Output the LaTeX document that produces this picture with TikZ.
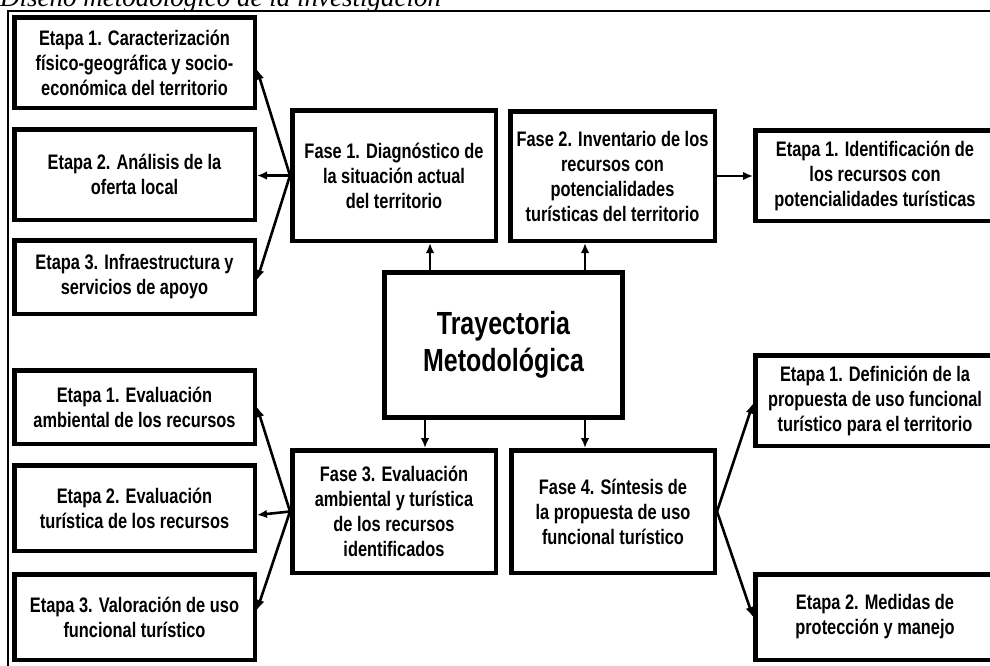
\documentclass[tikz,border=0pt]{standalone}
\usepackage{fontspec}
\newfontfamily\nf[FakeStretch=0.78]{Liberation Sans}
\newfontfamily\tf{Liberation Serif}
\usetikzlibrary{arrows.meta,calc}
\begin{document}
\begin{tikzpicture}[x=1pt,y=-1pt,
  box/.style={draw, line width=4.5pt, align=center, inner sep=0pt,
    font=\nf\bfseries\fontsize{21}{25}\selectfont},
  arr/.style={line width=2.6pt, -{Latex[length=10pt,width=8.5pt]}}]
\useasboundingbox (0,0) rectangle (990,665);
\clip (0,0) rectangle (990,665);
% title (cut off at top)
\node[anchor=base west, inner sep=0pt, font=\tf\itshape\fontsize{27}{32}\selectfont] (title) at (0,6) {Diseño metodológico de la investigación};
% frame
\draw[line width=2pt] (8,668) -- (8,11) -- (992,11);
% left column
\node[box, minimum width=240.5pt, minimum height=90.5pt] (L1) at (134.5,62.5) {Etapa 1. Caracterización\\físico-geográfica y socio-\\económica del territorio};
\node[box, minimum width=240.5pt, minimum height=90.5pt] (L2) at (134.5,174.5) {Etapa 2. Análisis de la\\oferta local};
\node[box, minimum width=240.5pt, minimum height=73.5pt] (L3) at (134.5,277) {Etapa 3. Infraestructura y\\servicios de apoyo};
\node[box, minimum width=240.5pt, minimum height=73.5pt] (L4) at (134.5,407) {Etapa 1. Evaluación\\ambiental de los recursos};
\node[box, minimum width=240.5pt, minimum height=85.5pt] (L5) at (134.5,508) {Etapa 2. Evaluación\\turística de los recursos};
\node[box, minimum width=240.5pt, minimum height=85.5pt] (L6) at (134.5,617) {Etapa 3. Valoración de uso\\funcional turístico};
% phases
\node[box, minimum width=203.5pt, minimum height=130.5pt] (F1) at (394,175.5) {Fase 1. Diagnóstico de\\la situación actual\\del territorio};
\node[box, minimum width=204.5pt, minimum height=129.5pt] (F2) at (612.5,176) {Fase 2. Inventario de los\\recursos con\\potencialidades\\turísticas del territorio};
\node[box, minimum width=203.5pt, minimum height=122.5pt] (F3) at (394,511.5) {Fase 3. Evaluación\\ambiental y turística\\de los recursos\\identificados};
\node[box, minimum width=203.5pt, minimum height=122.5pt] (F4) at (613,511.5) {Fase 4. Síntesis de\\la propuesta de uso\\funcional turístico};
% centre
\node[box, line width=5pt, minimum width=238pt, minimum height=145pt,
  font=\nf\bfseries\fontsize{32}{37}\selectfont] (C) at (503.5,345) {Trayectoria\\Metodológica};
% right column
\node[box, minimum width=239.5pt, minimum height=90.5pt] (R1) at (875,175.5) {Etapa 1. Identificación de\\los recursos con\\potencialidades turísticas};
\node[box, minimum width=239.5pt, minimum height=90.5pt] (R2) at (875,400.5) {Etapa 1. Definición de la\\propuesta de uso funcional\\turístico para el territorio};
\node[box, minimum width=239.5pt, minimum height=85.5pt] (R3) at (875,617) {Etapa 2. Medidas de\\protección y manejo};
% arrow columns
\coordinate (xa) at (430,0);
\coordinate (xb) at (585,0);
\coordinate (xc) at (425,0);
% connectors
\draw[arr] (xa |- C.north) -- (xa |- F1.south);
\draw[arr] (xb |- C.north) -- (xb |- F2.south);
\draw[arr] (xc |- C.south) -- (xc |- F3.north);
\draw[arr] (xb |- C.south) -- (xb |- F4.north);
\draw[arr] (F1.west) -- ($(L1.east)+(0,7)$);
\draw[arr] (F1.west) -- (F1.west -| L2.east);
\draw[arr] (F1.west) -- ($(L3.east)+(0,3)$);
\draw[arr] (F2.east) -- (F2.east -| R1.west);
\draw[arr] (F3.west) -- (L4.east);
\draw[arr] (F3.west) -- ($(L5.east)+(0,7)$);
\draw[arr] (F3.west) -- ($(L6.east)+(0,-7)$);
\draw[arr] (F4.east) -- ($(R2.west)+(0,3)$);
\draw[arr] (F4.east) -- (R3.west);
\end{tikzpicture}
\end{document}
